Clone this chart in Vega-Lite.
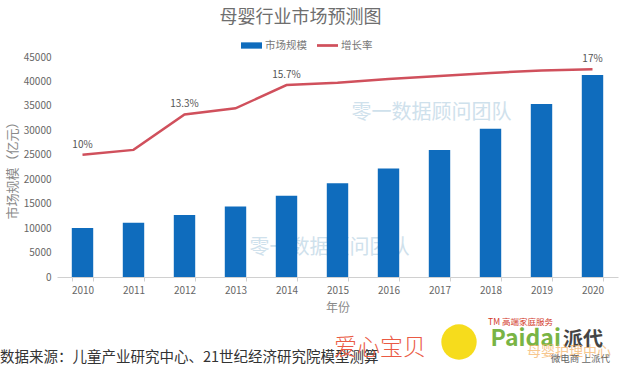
{
  "$schema": "https://vega.github.io/schema/vega-lite/v6.json",
  "autosize": {"type": "none"},
  "padding": {"left": 57, "top": 57, "right": 2, "bottom": 93},
  "width": 561,
  "height": 220,
  "background": "white",
  "config": {
    "font": "Noto Sans CJK SC",
    "view": {"stroke": null}
  },
  "title": {
    "text": "母婴行业市场预测图",
    "fontSize": 18,
    "fontWeight": "normal",
    "color": "#6e6e6e",
    "anchor": "middle",
    "dx": -37,
    "offset": 8
  },
  "datasets": {
    "market": [
      {"year": "2010", "size": 10000, "series": "市场规模"},
      {"year": "2011", "size": 11100, "series": "市场规模"},
      {"year": "2012", "size": 12700, "series": "市场规模"},
      {"year": "2013", "size": 14400, "series": "市场规模"},
      {"year": "2014", "size": 16600, "series": "市场规模"},
      {"year": "2015", "size": 19200, "series": "市场规模"},
      {"year": "2016", "size": 22200, "series": "市场规模"},
      {"year": "2017", "size": 26000, "series": "市场规模"},
      {"year": "2018", "size": 30300, "series": "市场规模"},
      {"year": "2019", "size": 35400, "series": "市场规模"},
      {"year": "2020", "size": 41300, "series": "市场规模"}
    ],
    "rate": [
      {"year": "2010", "rate": 10.0},
      {"year": "2011", "rate": 10.4},
      {"year": "2012", "rate": 13.3},
      {"year": "2013", "rate": 13.8},
      {"year": "2014", "rate": 15.7},
      {"year": "2015", "rate": 15.9},
      {"year": "2016", "rate": 16.2},
      {"year": "2017", "rate": 16.45},
      {"year": "2018", "rate": 16.7},
      {"year": "2019", "rate": 16.9},
      {"year": "2020", "rate": 17.0}
    ],
    "rateLabels": [
      {"year": "2010", "rate": 10.0, "label": "10%"},
      {"year": "2012", "rate": 13.3, "label": "13.3%"},
      {"year": "2014", "rate": 15.7, "label": "15.7%"},
      {"year": "2020", "rate": 17.0, "label": "17%"}
    ],
    "watermarks": [
      {"year": "2017", "v": 33545, "text": "零一数据顾问团队"},
      {"year": "2015", "v": 5900, "text": "零一数据顾问团队"}
    ],
    "notes": [
      {"year": "2010", "v": -16568, "text": "数据来源：儿童产业研究中心、21世纪经济研究院模型测算"}
    ]
  },
  "layer": [
    {
      "data": {"name": "watermarks"},
      "mark": {"type": "text", "fontSize": 20, "color": "#cfe1ec", "align": "center", "baseline": "middle", "dx": -8},
      "encoding": {
        "x": {
          "field": "year",
          "type": "nominal",
          "scale": {"paddingInner": 0.58, "paddingOuter": 0.29},
          "axis": {
            "title": "年份",
            "titleColor": "#8a8a8a",
            "titleFontSize": 12,
            "titleFontWeight": "normal",
            "titlePadding": 7,
            "labelAngle": 0,
            "labelColor": "#666666",
            "labelFontSize": 10,
            "labelPadding": 4,
            "domainColor": "#d0d0d0",
            "tickColor": "#d0d0d0",
            "tickSize": 4,
            "tickBand": "extent"
          }
        },
        "y": {"field": "v", "type": "quantitative", "scale": {"domain": [0, 45000], "nice": false}, "axis": null},
        "text": {"field": "text"}
      }
    },
    {
      "data": {"name": "market"},
      "mark": {"type": "bar", "color": "#0f6cbd"},
      "encoding": {
        "x": {"field": "year", "type": "nominal"},
        "y": {
          "field": "size",
          "type": "quantitative",
          "scale": {"domain": [0, 45000], "nice": false},
          "axis": {
            "title": "市场规模（亿元）",
            "titleColor": "#8a8a8a",
            "titleFontSize": 13,
            "titleFontWeight": "normal",
            "titlePadding": 4,
            "values": [0, 5000, 10000, 15000, 20000, 25000, 30000, 35000, 40000, 45000],
            "format": "d",
            "labelOverlap": false,
            "labelColor": "#666666",
            "labelFontSize": 10,
            "labelPadding": 6,
            "domain": false,
            "ticks": false,
            "gridColor": "#e2e2e2"
          }
        },
        "color": {
          "field": "series",
          "type": "nominal",
          "scale": {"domain": ["市场规模", "增长率"], "range": ["#0f6cbd", "#d0505c"]},
          "legend": {
            "title": null,
            "orient": "none",
            "legendX": 184,
            "legendY": -22,
            "direction": "horizontal",
            "labelColor": "#777777",
            "labelFontSize": 10.5,
            "labelOffset": 3,
            "columnPadding": 10,
            "symbolSize": 441,
            "symbolStrokeWidth": 0,
            "symbolOpacity": 1,
            "encode": {
              "symbols": {
                "update": {
                  "shape": {"signal": "datum.value === '增长率' ? 'M-1,-0.13H1V0.13H-1Z' : 'M-1,-0.3H1V0.3H-1Z'"}
                }
              }
            }
          }
        }
      }
    },
    {
      "data": {"name": "rate"},
      "mark": {"type": "line", "color": "#d0505c", "strokeWidth": 2.5},
      "encoding": {
        "x": {"field": "year", "type": "nominal"},
        "y": {"field": "rate", "type": "quantitative", "scale": {"domain": [0, 18], "nice": false}, "axis": null}
      }
    },
    {
      "data": {"name": "rateLabels"},
      "mark": {"type": "text", "fontSize": 10, "color": "#555555", "align": "center", "baseline": "bottom", "dy": -5},
      "encoding": {
        "x": {"field": "year", "type": "nominal"},
        "y": {"field": "rate", "type": "quantitative", "scale": {"domain": [0, 18], "nice": false}, "axis": null},
        "text": {"field": "label"}
      }
    },
    {
      "data": {"name": "notes"},
      "mark": {"type": "text", "fontSize": 14.5, "color": "#333333", "align": "left", "baseline": "middle", "dx": -82.5},
      "encoding": {
        "x": {"field": "year", "type": "nominal"},
        "y": {"field": "v", "type": "quantitative", "scale": {"domain": [0, 45000], "nice": false}, "axis": null},
        "text": {"field": "text"}
      }
    },
    {
      "data": {"values": [{"year": "2016", "v": -14522, "text": "爱心宝贝"}]},
      "mark": {"type": "text", "fontSize": 23, "fontWeight": 300, "color": "#ea5a44", "align": "center", "baseline": "middle", "dx": -8.5},
      "encoding": {
        "x": {"field": "year", "type": "nominal"},
        "y": {"field": "v", "type": "quantitative", "scale": {"domain": [0, 45000], "nice": false}, "axis": null},
        "text": {"field": "text"}
      }
    },
    {
      "data": {"values": [{"year": "2017", "v": -13295}]},
      "mark": {"type": "point", "filled": true, "size": 1250, "color": "#f6dc1c", "opacity": 1, "xOffset": 19.5},
      "encoding": {
        "x": {"field": "year", "type": "nominal"},
        "y": {"field": "v", "type": "quantitative", "scale": {"domain": [0, 45000], "nice": false}, "axis": null}
      }
    },
    {
      "data": {"values": [{"year": "2018", "v": -9200, "text": "TM 高端家庭服务"}]},
      "mark": {"type": "text", "fontSize": 8.5, "color": "#d23a2a", "align": "center", "baseline": "middle", "dx": 30},
      "encoding": {
        "x": {"field": "year", "type": "nominal"},
        "y": {"field": "v", "type": "quantitative", "scale": {"domain": [0, 45000], "nice": false}, "axis": null},
        "text": {"field": "text"}
      }
    },
    {
      "data": {"values": [{"year": "2018", "v": -12700, "text": "Paidai"}]},
      "mark": {"type": "text", "fontSize": 23, "fontWeight": "bold", "color": "#79b445", "align": "left", "baseline": "middle"},
      "encoding": {
        "x": {"field": "year", "type": "nominal"},
        "y": {"field": "v", "type": "quantitative", "scale": {"domain": [0, 45000], "nice": false}, "axis": null},
        "text": {"field": "text"}
      }
    },
    {
      "data": {"values": [{"year": "2019", "v": -12886, "text": "派代"}]},
      "mark": {"type": "text", "fontSize": 20, "fontWeight": "bold", "color": "#444444", "align": "left", "baseline": "middle", "dx": 21.5},
      "encoding": {
        "x": {"field": "year", "type": "nominal"},
        "y": {"field": "v", "type": "quantitative", "scale": {"domain": [0, 45000], "nice": false}, "axis": null},
        "text": {"field": "text"}
      }
    },
    {
      "data": {"values": [{"year": "2020", "v": -15300, "text": "母婴护理中心"}]},
      "mark": {"type": "text", "fontSize": 14, "color": "#f5b060", "opacity": 0.7, "align": "center", "baseline": "middle", "dx": -23.5},
      "encoding": {
        "x": {"field": "year", "type": "nominal"},
        "y": {"field": "v", "type": "quantitative", "scale": {"domain": [0, 45000], "nice": false}, "axis": null},
        "text": {"field": "text"}
      }
    },
    {
      "data": {"values": [{"year": "2020", "v": -16700, "text": "微电商 上派代"}]},
      "mark": {"type": "text", "fontSize": 9.5, "color": "#666666", "align": "right", "baseline": "middle", "dx": 17.5},
      "encoding": {
        "x": {"field": "year", "type": "nominal"},
        "y": {"field": "v", "type": "quantitative", "scale": {"domain": [0, 45000], "nice": false}, "axis": null},
        "text": {"field": "text"}
      }
    }
  ],
  "resolve": {"scale": {"y": "independent"}}
}
